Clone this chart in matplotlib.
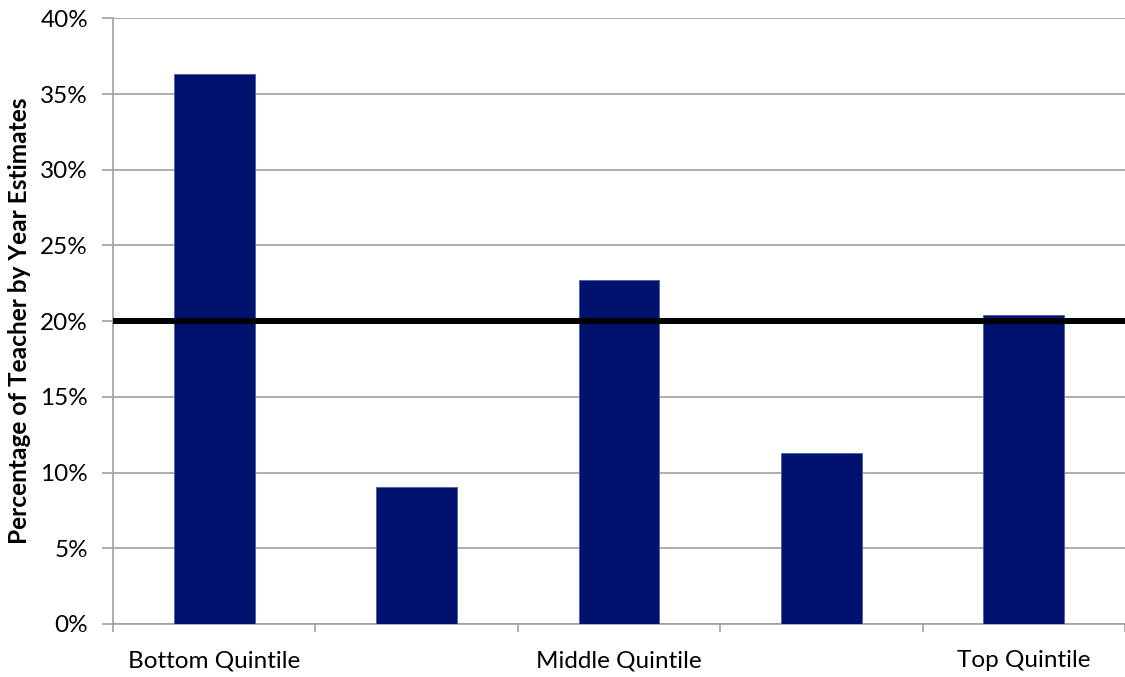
import matplotlib.pyplot as plt
import numpy as np

categories = ["Bottom Quintile", "", "Middle Quintile", "", "Top Quintile"]
shares = [36.33, 9.05, 22.72, 11.29, 20.41]  # percent of teacher-by-year estimates
reference_level = 20.0
yticks = [0, 5, 10, 15, 20, 25, 30, 35, 40]

plt.rcParams['font.family'] = ['Lato', 'DejaVu Sans']

fig = plt.figure(figsize=(11.25, 6.77), dpi=100)
ax = fig.add_axes([113 / 1125, 1 - 624 / 677, 1 - 113 / 1125, (624 - 18.3) / 677])

x = np.arange(len(categories))
ax.bar(x, shares, width=0.4, color='#00126E', edgecolor='#4A5FA8', linewidth=0.6, zorder=3)
ax.axhline(reference_level, color='black', linewidth=4.3, zorder=4)

ax.set_ylim(0, 40)
ax.set_xlim(-0.5, 4.5 - 4.4 / 203.2)
ax.set_yticks(yticks)
ax.set_yticklabels([f"{v}%" for v in yticks], fontsize=17.5)
ax.yaxis.grid(True, color='#A0A0A0', linewidth=1.2, zorder=0)
ax.set_axisbelow(True)

# category labels sit between boundary tick marks
ax.set_xticks(x)
ax.set_xticklabels(categories, fontsize=17.5)
ax.tick_params(axis='x', which='major', length=0, pad=19)
ax.set_xticks(np.arange(-0.5, 5.0, 1.0), minor=True)
ax.tick_params(axis='x', which='minor', length=6, width=1.2, color='#A0A0A0')
ax.tick_params(axis='y', length=8, width=1.2, color='#A0A0A0', pad=10)

for side in ['top', 'right']:
    ax.spines[side].set_visible(False)
for side in ['left', 'bottom']:
    ax.spines[side].set_color('#A0A0A0')
    ax.spines[side].set_linewidth(1.2)

ax.set_ylabel("Percentage of Teacher by Year Estimates", fontsize=17.6, fontweight='bold', labelpad=7)

plt.savefig("out.png", dpi=100)
